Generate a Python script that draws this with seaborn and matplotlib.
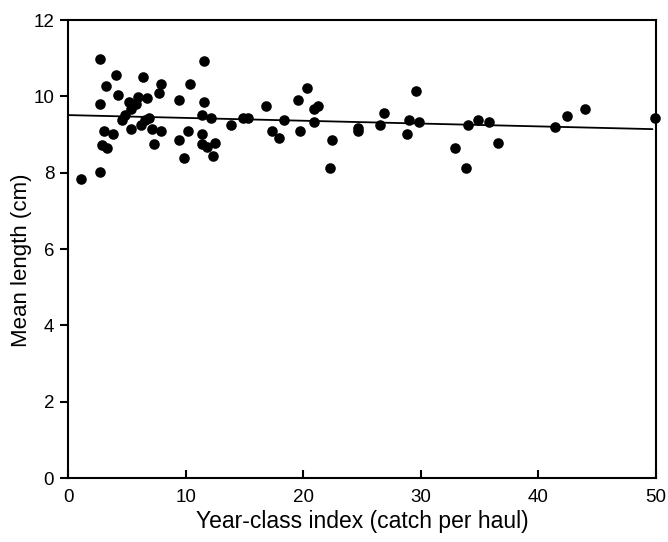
import numpy as np
import pandas as pd
import matplotlib
matplotlib.use("Agg")
import matplotlib.pyplot as plt
import seaborn as sns

# Data
year_class_index = [
    1.08, 2.67, 2.67, 2.67, 3.24, 4.03, 4.20, 3.04, 3.81, 2.84, 3.30,
    5.17, 5.37, 5.79, 5.94, 6.33, 6.75, 7.69, 7.90, 4.60, 4.80, 5.37,
    6.16, 6.53, 6.92, 7.13, 7.90, 7.33, 9.43, 10.39, 11.56, 11.56, 11.39,
    12.16, 9.45, 10.20, 9.82, 11.39, 11.39, 11.81, 12.52, 12.33, 13.88,
    14.85, 15.31, 16.81, 17.35, 17.97, 18.37, 19.51, 20.30, 20.89, 21.29,
    20.89, 19.70, 22.43, 22.26, 24.68, 24.68, 26.49, 26.89, 28.99, 28.82,
    29.62, 29.81, 32.91, 33.84, 34.05, 34.84, 35.78, 36.57, 41.40, 42.39,
    43.93, 49.94,
]
mean_length = [
    7.84, 10.98, 9.80, 8.02, 10.27, 10.57, 10.03, 9.08, 9.01, 8.73, 8.66,
    9.85, 9.68, 9.80, 9.98, 10.51, 9.97, 10.10, 10.32, 9.37, 9.50, 9.14,
    9.25, 9.37, 9.43, 9.14, 9.08, 8.74, 9.90, 10.33, 10.92, 9.84, 9.50,
    9.43, 8.85, 9.08, 8.38, 9.02, 8.74, 8.67, 8.79, 8.43, 9.26,
    9.43, 9.43, 9.74, 9.08, 8.91, 9.37, 9.91, 10.21, 9.67, 9.74,
    9.32, 9.08, 8.85, 8.13, 9.08, 9.16, 9.26, 9.56, 9.38, 9.02,
    10.15, 9.32, 8.66, 8.13, 9.26, 9.38, 9.32, 8.79, 9.20, 9.49,
    9.67, 9.43,
]
# Fitted trend line
fit_intercept = 9.51
fit_slope = -0.0074
fit_x = [0.0, 49.7]

x_ticks = [0, 10, 20, 30, 40, 50]
y_ticks = [0, 2, 4, 6, 8, 10, 12]

sns.set_theme(style="white")
plt.rcParams["font.family"] = ["Liberation Sans", "DejaVu Sans"]
plt.rcParams["text.color"] = "black"
plt.rcParams["axes.labelcolor"] = "black"
plt.rcParams["xtick.color"] = "black"
plt.rcParams["ytick.color"] = "black"

fig = plt.figure(figsize=(6.68, 5.42), dpi=100)
ax = fig.add_axes([0.102, 0.118, 0.880, 0.845])

df = pd.DataFrame({"x": year_class_index, "y": mean_length})
fit_df = pd.DataFrame({"x": fit_x,
                       "y": [fit_intercept + fit_slope * v for v in fit_x]})

sns.lineplot(data=fit_df, x="x", y="y", ax=ax, color="black", linewidth=1.3,
             zorder=2)
sns.scatterplot(data=df, x="x", y="y", ax=ax, color="black", s=58,
                edgecolor="black", linewidth=0, zorder=3, clip_on=False)

ax.set_xlim(0, 50)
ax.set_ylim(0, 12)
ax.set_xticks(x_ticks)
ax.set_yticks(y_ticks)
ax.set_xticklabels([str(v) for v in x_ticks])
ax.set_yticklabels([str(v) for v in y_ticks])

for sp in ax.spines.values():
    sp.set_visible(True)
    sp.set_color("black")
    sp.set_linewidth(1.5)

ax.tick_params(axis="x", direction="in", length=6, width=1.5, colors="black",
               labelsize=13.5, pad=8)
ax.tick_params(axis="y", direction="out", length=6, width=1.5, colors="black",
               labelsize=13.5, pad=4, left=True)
ax.tick_params(axis="x", bottom=True)

ax.set_xlabel("Year-class index (catch per haul)", fontsize=16.5, labelpad=3,
              color="black")
ax.set_ylabel("Mean length (cm)", fontsize=16, color="black")
ax.yaxis.set_label_coords(-0.062, 0.476)
ax.grid(False)

fig.savefig("out.png", dpi=100)
